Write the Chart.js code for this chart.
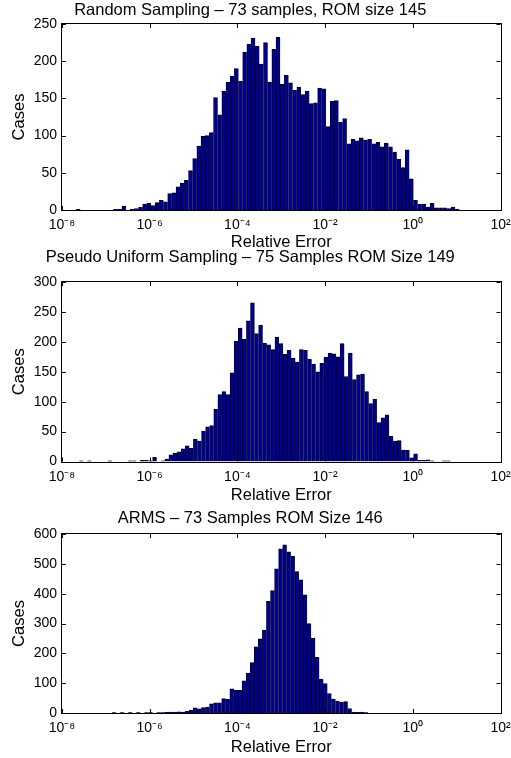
<!DOCTYPE html>
<html>
<head>
<meta charset="utf-8">
<script src="https://cdn.jsdelivr.net/npm/chart.js@4.4.1/dist/chart.umd.min.js"></script>
<style>
  body { margin: 0; background: #fff; }
  #wrap { position: relative; width: 511px; height: 758px; }
  canvas { position: absolute; left: 0; }
</style>
</head>
<body>
<div id="wrap">
  <canvas id="c1" width="511" height="252" style="top:0px"></canvas>
  <canvas id="c2" width="511" height="259" style="top:246px"></canvas>
  <canvas id="c3" width="511" height="251" style="top:506px"></canvas>
</div>
<script>
// histogram counts; bins are uniform in log10(error)
// start = log10 of the left edge of the first bin, width = bin width in decades
const randomCounts = [
  1, 0, 0, 0, 0, 0, 0, 0, 0, 1, 1, 5, 0, 1, 2, 4, 8, 9, 6, 10, 13, 11, 22, 23, 31, 36, 40, 53, 69, 86, 99, 100, 104,
  151, 128, 160, 172, 180, 190, 173, 212, 223, 231, 220, 196, 225, 172, 216, 232, 169, 181, 171, 161, 165, 155, 160,
  143, 144, 164, 163, 112, 146, 147, 118, 123,
  89, 95, 93, 97, 94, 95, 89, 91, 85, 90, 85, 78, 68, 57, 81, 42, 13, 8, 8, 4, 9, 3, 3, 3, 2, 4, 1
];
const randomStart = -7.679;
const randomWidth = 0.095;

const pseudoCounts = [
  1, 0, 1, 0, 0, 0, 0, 1, 0, 0, 0, 0, 1, 1, 0, 2, 2, 1, 7, 0, 1, 4, 11, 14, 16, 21, 26, 22, 37, 34, 51, 58, 60, 87,
  112, 117, 112,
  148, 201, 223, 204, 235, 265, 214, 228, 198, 195, 187, 208, 197, 179, 186, 173, 166, 187, 186, 171, 163, 150, 164,
  174, 181, 180, 175, 197, 142, 181, 137, 145, 146, 117, 97, 104, 65, 73, 78, 42, 34, 35, 19, 19, 6, 13, 2, 2, 3, 1,
  0, 0, 1, 1
];
const pseudoStart = -7.607;
const pseudoWidth = 0.093;

const armsCounts = [
  1, 0, 1, 0, 1, 0, 1, 0, 1, 1, 0, 1, 1, 2, 3, 3, 4, 3, 6, 10, 17, 14, 18, 20, 31, 34, 34, 48, 46, 81, 77, 76, 108,
  133, 169, 222, 249, 278,
  374, 410, 483, 550, 564, 540, 525, 474, 446, 396, 300, 250, 187, 114, 99, 65, 47, 40, 36, 38, 15, 3, 2, 3, 1
];
const armsStart = -6.860;
const armsWidth = 0.0927;

const xTicksExp = [-8, -6, -4, -2, 0, 2];

const FONT = "'Liberation Sans', Arial, Helvetica, sans-serif";
Chart.defaults.font.family = FONT;
Chart.defaults.color = '#000';

var sup = {
  '-': '\u207B', '0': '\u2070', '1': '\u00B9', '2': '\u00B2', '3': '\u00B3', '4': '\u2074',
  '5': '\u2075', '6': '\u2076', '7': '\u2077', '8': '\u2078', '9': '\u2079'
};
var decadeLabel = function (v) {
  return '10' + String(v).split('').map(function (c) { return sup[c]; }).join('');
};

// matlab style box with inward ticks
var frame = {
  id: 'frame',
  afterDraw: function (chart) {
    var ctx = chart.ctx, a = chart.chartArea, x = chart.scales.x, y = chart.scales.y;
    ctx.save();
    ctx.strokeStyle = '#000';
    ctx.lineWidth = 1;
    ctx.beginPath();
    x.ticks.forEach(function (t) {
      var px = Math.round(x.getPixelForValue(t.value)) + 0.5;
      ctx.moveTo(px, a.bottom); ctx.lineTo(px, a.bottom - 4);
      ctx.moveTo(px, a.top); ctx.lineTo(px, a.top + 4);
    });
    y.ticks.forEach(function (t) {
      var py = Math.round(y.getPixelForValue(t.value)) + 0.5;
      ctx.moveTo(a.left, py); ctx.lineTo(a.left + 4, py);
      ctx.moveTo(a.right, py); ctx.lineTo(a.right - 4, py);
    });
    ctx.stroke();
    ctx.strokeRect(Math.round(a.left) - 0.5, Math.round(a.top) - 0.5,
      Math.round(a.right - a.left) + 1, Math.round(a.bottom - a.top) + 1);
    ctx.restore();
  }
};

var drawHist = function (id, p) {
  var points = p.counts.map(function (c, i) {
    return { x: p.start + (i + 0.5) * p.width, y: c };
  });
  return new Chart(document.getElementById(id), {
    type: 'bar',
    data: {
      datasets: [{
        data: points,
        backgroundColor: 'rgb(0, 0, 143)',
        borderColor: '#000',
        borderWidth: { top: 1, left: 1, right: 0, bottom: 0 },
        borderSkipped: false,
        barPercentage: 1,
        categoryPercentage: 1
      }]
    },
    options: {
      responsive: false,
      animation: false,
      events: [],
      layout: { padding: { right: 10.5 } },
      plugins: {
        legend: { display: false },
        tooltip: { enabled: false },
        title: {
          display: true, text: p.title, color: '#000',
          font: { size: 16.5, weight: 'normal' }, padding: p.titlePad
        }
      },
      scales: {
        x: {
          type: 'linear', min: -8, max: 2, offset: false,
          grid: { display: false, drawTicks: false }, border: { display: false },
          afterBuildTicks: function (s) { s.ticks = xTicksExp.map(function (v) { return { value: v }; }); },
          ticks: { autoSkip: false, maxRotation: 0, padding: 7, font: { size: 14 }, callback: decadeLabel },
          title: { display: true, text: 'Relative Error', font: { size: 16.5 }, padding: 0 },
          afterFit: function (s) { s.height = p.xHeight; s.paddingLeft = 0; s.paddingRight = 0; }
        },
        y: {
          min: 0, max: p.yMax,
          grid: { display: false, drawTicks: false }, border: { display: false },
          ticks: { stepSize: p.yStep, padding: 5, font: { size: 14 } },
          title: { display: true, text: 'Cases', font: { size: 16.5 }, padding: { top: 9.6, bottom: 0 } },
          afterFit: function (s) { s.width = 62; s.paddingTop = 0; s.paddingBottom = 0; }
        }
      }
    },
    plugins: [frame]
  });
};

drawHist('c1', {
  title: 'Random Sampling \u2013 73 samples, ROM size 145',
  counts: randomCounts, start: randomStart, width: randomWidth,
  yMax: 250, yStep: 50, titlePad: { top: 1, bottom: 3.2 }, xHeight: 42
});
drawHist('c2', {
  title: 'Pseudo Uniform Sampling \u2013 75 Samples ROM Size 149',
  counts: pseudoCounts, start: pseudoStart, width: pseudoWidth,
  yMax: 300, yStep: 50, titlePad: { top: 1.9, bottom: 14.3 }, xHeight: 43.5
});
drawHist('c3', {
  title: 'ARMS \u2013 73 Samples ROM Size 146',
  counts: armsCounts, start: armsStart, width: armsWidth,
  yMax: 600, yStep: 100, titlePad: { top: 2.9, bottom: 5.3 }, xHeight: 44
});
</script>
</body>
</html>
